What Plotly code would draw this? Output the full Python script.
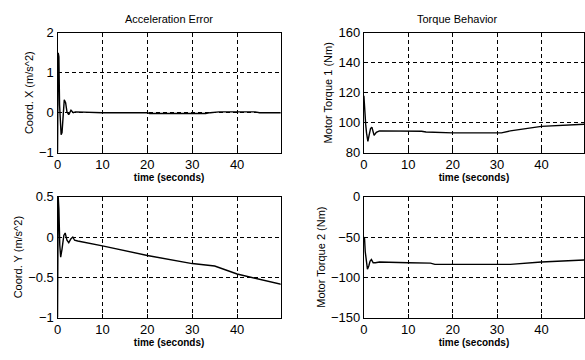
import plotly.graph_objects as go

# Acceleration error, X
t_ax = [0, 0.15, 0.3, 0.45, 0.6, 0.8, 1.0, 1.2, 1.5, 1.8, 2.1, 2.5, 3.0, 3.5, 4, 10, 20, 20.5, 33, 34, 36, 44, 45, 50]
acc_x = [-1.0, 1.5, 1.4, 0.2, -0.25, -0.55, -0.5, -0.1, 0.32, 0.25, 0.02, -0.05, 0.06, 0.0, 0.02, 0.0, 0.0, -0.02, -0.02, 0.0, 0.02, 0.02, 0.0, 0.0]

# Acceleration error, Y
t_ay = [0, 0.15, 0.3, 0.5, 0.7, 1.0, 1.4, 1.7, 2.1, 2.5, 3.0, 3.4, 3.8, 4.5, 10, 20, 30, 35, 40, 50]
acc_y = [-1.0, 0.5, 0.35, -0.1, -0.25, -0.15, 0.02, 0.05, -0.04, -0.07, -0.02, 0.0, -0.04, -0.05, -0.11, -0.23, -0.33, -0.36, -0.46, -0.59]

# Motor torque 1
t_m1 = [0, 0.2, 0.4, 0.6, 0.9, 1.2, 1.5, 1.8, 2.3, 2.8, 3.5, 13, 14, 20, 31, 33, 40, 50]
torque1 = [118, 102, 99, 93, 87.5, 92, 96, 97, 91.5, 93.5, 94.5, 94.3, 93.8, 93.2, 93.2, 94.5, 97.5, 99]

# Motor torque 2
t_m2 = [0, 0.15, 0.3, 0.5, 0.8, 1.1, 1.4, 1.7, 2.1, 2.6, 3.5, 10, 15, 16, 33, 40, 50]
torque2 = [-50, -52, -68, -80, -90, -86, -80, -78, -82, -82, -81, -82, -82.5, -84, -84, -81, -78.5]

x_ticks = [0, 10, 20, 30, 40]

fig = go.Figure()
fig.add_trace(go.Scatter(x=t_ax, y=acc_x, mode="lines", line=dict(color="black", width=1.4), xaxis="x", yaxis="y"))
fig.add_trace(go.Scatter(x=t_m1, y=torque1, mode="lines", line=dict(color="black", width=1.4), xaxis="x2", yaxis="y2"))
fig.add_trace(go.Scatter(x=t_ay, y=acc_y, mode="lines", line=dict(color="black", width=1.4), xaxis="x3", yaxis="y3"))
fig.add_trace(go.Scatter(x=t_m2, y=torque2, mode="lines", line=dict(color="black", width=1.4), xaxis="x4", yaxis="y4"))

tickfont = dict(family="Liberation Sans, Arial", size=13, color="black")
titlefont = dict(family="Liberation Sans, Arial", size=11, color="black")
xtitlefont = dict(family="Liberation Sans, Arial", size=10, color="black", weight="bold")

def xax(domain, anchor, rng):
    return dict(domain=domain, anchor=anchor, range=rng, tickvals=x_ticks,
                showgrid=True, gridcolor="black", griddash="4px,3px", gridwidth=1,
                showline=True, linecolor="black", linewidth=1.2, mirror=True,
                ticks="inside", ticklen=3, tickcolor="black", zeroline=False,
                tickfont=tickfont, title=dict(text="time (seconds)", font=xtitlefont, standoff=0))

def yax(domain, anchor, rng, dtick, title):
    return dict(domain=domain, anchor=anchor, range=rng, dtick=dtick,
                showgrid=True, gridcolor="black", griddash="4px,3px", gridwidth=1,
                showline=True, linecolor="black", linewidth=1.2, mirror=True,
                ticks="inside", ticklen=3, tickcolor="black", zeroline=False,
                tickfont=tickfont, title=dict(text=title, font=titlefont, standoff=3))

xl = [0.0923, 0.477]
xr = [0.6205, 1.0]
yt = [0.578, 0.925]
yb = [0.10, 0.45]

fig.update_layout(
    width=585, height=360,
    margin=dict(l=0, r=0, t=0, b=0),
    paper_bgcolor="white", plot_bgcolor="white",
    showlegend=False,
    xaxis=xax(xl, "y", [0, 49.7]),
    yaxis=yax(yt, "x", [-1, 2], 1, "Coord. X (m/s^2)"),
    xaxis2=xax(xr, "y2", [0, 49.6]),
    yaxis2=yax(yt, "x2", [80, 160], 20, "Motor Torque 1 (Nm)"),
    xaxis3=xax(xl, "y3", [0, 49.7]),
    yaxis3=yax(yb, "x3", [-1, 0.5], 0.5, "Coord. Y (m/s^2)"),
    xaxis4=xax(xr, "y4", [0, 49.6]),
    yaxis4=yax(yb, "x4", [-150, 0], 50, "Motor Torque 2 (Nm)"),
    annotations=[
        dict(text="Acceleration Error", x=166/585, y=1 - 13/360, xref="paper", yref="paper",
             showarrow=False, font=titlefont, xanchor="center", yanchor="middle"),
        dict(text="Torque Behavior", x=457/585, y=1 - 13/360, xref="paper", yref="paper",
             showarrow=False, font=titlefont, xanchor="center", yanchor="middle"),
    ],
)

fig.write_html("out.html")
